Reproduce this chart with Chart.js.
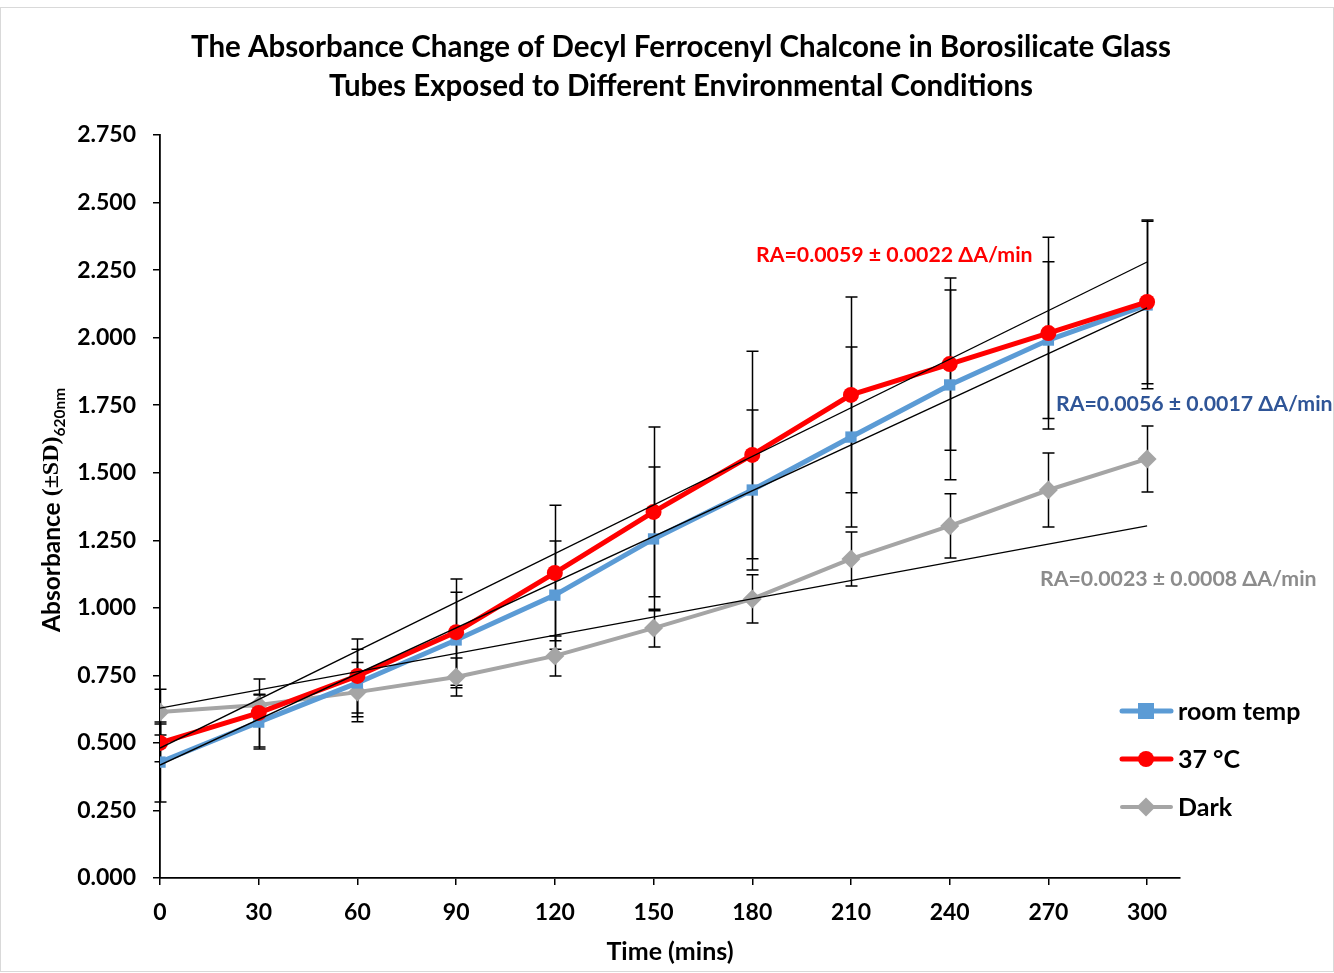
<!DOCTYPE html>
<html>
<head>
<meta charset="utf-8">
<script src="https://cdn.jsdelivr.net/npm/chart.js@4.4.1/dist/chart.umd.min.js"></script>
<style>
  html, body { margin: 0; padding: 0; background: #fff; }
  #wrap { width: 1334px; height: 973px; position: relative; }
</style>
</head>
<body>
<div id="wrap"><canvas id="chart" width="1334" height="973"></canvas></div>
<script>
// data
const times = [0, 30, 60, 90, 120, 150, 180, 210, 240, 270, 300];
const roomTemp = [0.429, 0.577, 0.722, 0.881, 1.047, 1.255, 1.436, 1.632, 1.825, 1.991, 2.121];
const roomTempSD = [0.148, 0.100, 0.125, 0.177, 0.200, 0.266, 0.296, 0.333, 0.351, 0.290, 0.310];
const temp37 = [0.500, 0.611, 0.748, 0.910, 1.129, 1.355, 1.566, 1.788, 1.902, 2.017, 2.132];
const temp37SD = [0.070, 0.126, 0.137, 0.197, 0.251, 0.314, 0.384, 0.362, 0.319, 0.355, 0.303];
const dark = [0.614, 0.640, 0.688, 0.744, 0.822, 0.925, 1.033, 1.181, 1.303, 1.436, 1.551];
const darkSD = [0.085, 0.040, 0.110, 0.070, 0.074, 0.070, 0.089, 0.100, 0.119, 0.137, 0.122];

// trend lines (start / end values at t = 0 and t = 300)
const trendX = [0, 300];
const trendRoom = [0.418, 2.110];
const trend37 = [0.481, 2.280];
const trendDark = [0.629, 1.303];

const rateLabels = [
    'RA=0.0059 \u00b1 0.0022 \u0394A/min',
    'RA=0.0056 \u00b1 0.0017 \u0394A/min',
    'RA=0.0023 \u00b1 0.0008 \u0394A/min'
];
const titleLines = [
    'The Absorbance Change of Decyl Ferrocenyl Chalcone in Borosilicate Glass',
    'Tubes Exposed to Different Environmental Conditions'
];

const FONT = 'Lato, "Open Sans", sans-serif';

function pts(xs, ys) {
    return xs.map((x, i) => ({ x: x, y: ys[i] }));
}

// error bars, drawn under the series
const errorBars = {
    id: 'errorBars',
    beforeDatasetsDraw(chart) {
        const ctx = chart.ctx;
        const xs = chart.scales.x, ys = chart.scales.y;
        const sets = [[roomTemp, roomTempSD], [temp37, temp37SD], [dark, darkSD]];
        ctx.save();
        ctx.strokeStyle = '#000';
        ctx.lineWidth = 1.5;
        sets.forEach(([vals, sds]) => {
            vals.forEach((v, i) => {
                const px = Math.round(xs.getPixelForValue(times[i])) + 0.5;
                const top = ys.getPixelForValue(v + sds[i]);
                const bot = ys.getPixelForValue(v - sds[i]);
                ctx.beginPath();
                ctx.moveTo(px, top); ctx.lineTo(px, bot);
                ctx.moveTo(px - 6, top); ctx.lineTo(px + 6, top);
                ctx.moveTo(px - 6, bot); ctx.lineTo(px + 6, bot);
                ctx.stroke();
            });
        });
        ctx.restore();
    }
};

function marker(ctx, style, x, y, r, color) {
    ctx.fillStyle = color;
    ctx.beginPath();
    if (style === 'rect') {
        ctx.rect(x - r, y - r, 2 * r, 2 * r);
    } else if (style === 'rectRot') {
        ctx.moveTo(x, y - r); ctx.lineTo(x + r, y); ctx.lineTo(x, y + r); ctx.lineTo(x - r, y); ctx.closePath();
    } else {
        ctx.arc(x, y, r, 0, Math.PI * 2);
    }
    ctx.fill();
}

// title, axis title, rate labels, legend
const overlay = {
    id: 'overlay',
    afterDraw(chart) {
        const ctx = chart.ctx;
        ctx.save();

        // outer frame
        ctx.strokeStyle = '#d9d9d9';
        ctx.lineWidth = 1;
        ctx.strokeRect(0.5, 7.5, 1333, 964);

        // title
        ctx.fillStyle = '#000';
        ctx.textAlign = 'center';
        ctx.textBaseline = 'middle';
        ctx.font = 'bold 29.5px ' + FONT;
        ctx.fillText(titleLines[0], 681, 47);
        ctx.fillText(titleLines[1], 681, 86);

        // y axis title with serif (±SD) and subscript
        ctx.save();
        ctx.translate(52, 632);
        ctx.rotate(-Math.PI / 2);
        ctx.textAlign = 'left';
        ctx.textBaseline = 'middle';
        let cx = 0;
        ctx.font = 'bold 24.5px ' + FONT;
        ctx.fillText('Absorbance ', cx, 0);
        cx += ctx.measureText('Absorbance ').width;
        ctx.font = 'bold 24px "Liberation Serif", "DejaVu Serif", serif';
        ctx.fillText('(\u00b1SD)', cx, 0);
        cx += ctx.measureText('(\u00b1SD)').width;
        ctx.font = 'bold 15.5px ' + FONT;
        ctx.fillText('620nm', cx, 8);
        ctx.restore();

        // x axis title
        ctx.font = 'bold 25px ' + FONT;
        ctx.textAlign = 'center';
        ctx.fillText('Time (mins)', 670, 952);

        // rate labels
        ctx.font = 'bold 21.3px ' + FONT;
        ctx.textAlign = 'left';
        ctx.fillStyle = '#ff0000';
        ctx.fillText(rateLabels[0], 756, 255);
        ctx.fillStyle = '#2f5597';
        ctx.fillText(rateLabels[1], 1056, 404);
        ctx.fillStyle = '#8c8c8c';
        ctx.fillText(rateLabels[2], 1040, 579);

        // legend
        const items = chart.data.datasets.filter(d => d.legendY);
        items.forEach(d => {
            const y = d.legendY;
            ctx.strokeStyle = d.borderColor;
            ctx.lineWidth = d.borderWidth;
            ctx.lineCap = 'round';
            ctx.beginPath();
            ctx.moveTo(1122, y); ctx.lineTo(1171, y);
            ctx.stroke();
            marker(ctx, d.pointStyle, 1146, y, d.pointRadius, d.borderColor);
            ctx.fillStyle = '#000';
            ctx.font = 'bold 25px ' + FONT;
            ctx.textAlign = 'left';
            ctx.fillText(d.label, 1178, y + 1);
        });

        ctx.restore();
    }
};

function trendSet(vals) {
    return {
        label: '',
        data: pts(trendX, vals),
        borderColor: '#000',
        borderWidth: 1.3,
        pointRadius: 0,
        fill: false,
        order: 0
    };
}

const chart = new Chart(document.getElementById('chart').getContext('2d'), {
    type: 'line',
    data: {
        datasets: [
            trendSet(trendRoom),
            trendSet(trend37),
            trendSet(trendDark),
            {
                label: '37 \u00b0C',
                data: pts(times, temp37),
                borderColor: '#ff0000',
                backgroundColor: '#ff0000',
                borderWidth: 5,
                pointStyle: 'circle',
                pointRadius: 8,
                pointBorderWidth: 0,
                order: 1,
                legendY: 759
            },
            {
                label: 'room temp',
                data: pts(times, roomTemp),
                borderColor: '#5b9bd5',
                backgroundColor: '#5b9bd5',
                borderWidth: 5,
                pointStyle: 'rect',
                pointRadius: 8,
                pointBorderWidth: 0,
                order: 2,
                legendY: 711
            },
            {
                label: 'Dark',
                data: pts(times, dark),
                borderColor: '#a5a5a5',
                backgroundColor: '#a5a5a5',
                borderWidth: 4,
                pointStyle: 'rectRot',
                pointRadius: 9.5,
                pointBorderWidth: 0,
                order: 3,
                legendY: 807
            }
        ]
    },
    options: {
        responsive: false,
        animation: false,
        layout: { padding: { left: 0, top: 135, right: 154, bottom: 0 } },
        plugins: {
            legend: { display: false },
            title: { display: false },
            tooltip: { enabled: false }
        },
        scales: {
            x: {
                type: 'linear',
                min: 0,
                max: 310,
                afterBuildTicks: s => { s.ticks = times.map(v => ({ value: v })); },
                afterFit: s => { s.height = 95; },
                border: { display: true, color: '#000', width: 1.8 },
                grid: { drawOnChartArea: false, drawTicks: true, tickLength: 7, color: '#000', lineWidth: 1.5 },
                ticks: {
                    stepSize: 30,
                    color: '#000',
                    padding: 14,
                    maxRotation: 0,
                    autoSkip: false,
                    font: { family: FONT, size: 23, weight: 'bold' }
                }
            },
            y: {
                min: 0,
                max: 2.75,
                afterFit: s => { s.width = 160; },
                border: { display: true, color: '#000', width: 1.8 },
                grid: { drawOnChartArea: false, drawTicks: true, tickLength: 7, color: '#000', lineWidth: 1.5 },
                ticks: {
                    stepSize: 0.25,
                    color: '#000',
                    padding: 17,
                    font: { family: FONT, size: 23, weight: 'bold' },
                    callback: v => v.toFixed(3)
                }
            }
        }
    },
    plugins: [errorBars, overlay]
});
</script>
</body>
</html>
